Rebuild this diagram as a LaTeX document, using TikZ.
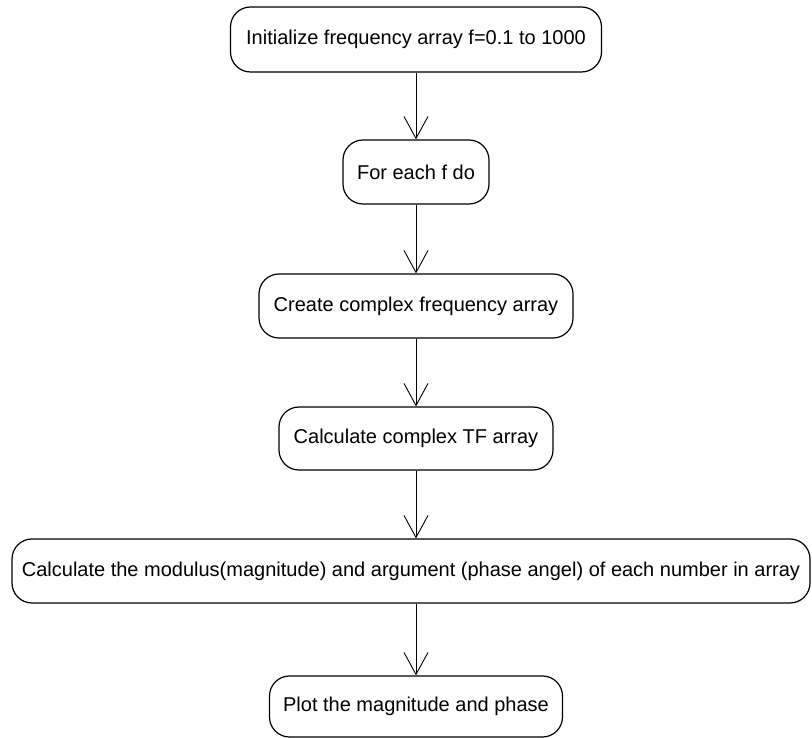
\documentclass[tikz,border=0pt]{standalone}
\usepackage{fontspec}
\setmainfont{Liberation Sans}
\usetikzlibrary{arrows.meta}
\begin{document}
\begin{tikzpicture}[x=1pt,y=1pt,
  stepbox/.style={draw, line width=1.2pt, rounded corners=20pt, inner sep=0pt,
    font=\fontsize{20}{24}\selectfont, text=black},
  flow/.style={line width=0.9pt,
    -{Straight Barb[length=22pt,width=24pt,line width=0.9pt]}}]
\useasboundingbox[fill=white] (0,0) rectangle (812,737);

% process steps, top to bottom
\node[stepbox, minimum width=371pt, minimum height=65pt] (init) at (416,697.5)
  {Initialize frequency array f=0.1 to 1000};
\node[stepbox, minimum width=146pt, minimum height=64pt] (loop) at (416,565)
  {For each f do};
\node[stepbox, minimum width=314pt, minimum height=64pt] (cplx) at (416,431)
  {Create complex frequency array};
\node[stepbox, minimum width=274pt, minimum height=63pt] (tf) at (416,298.5)
  {Calculate complex TF array};
\node[stepbox, minimum width=798pt, minimum height=64pt] (modarg) at (411,166)
  {Calculate the modulus(magnitude) and argument (phase angel) of each number in array};
\node[stepbox, minimum width=293pt, minimum height=61pt] (plot) at (416,30.5)
  {Plot the magnitude and phase};

% connectors
\draw[flow] (init.south) -- (loop.north);
\draw[flow] (loop.south) -- (cplx.north);
\draw[flow] (cplx.south) -- (tf.north);
\draw[flow] (tf.south) -- (tf.south |- modarg.north);
\draw[flow] (tf.south |- modarg.south) -- (plot.north);
\end{tikzpicture}
\end{document}
